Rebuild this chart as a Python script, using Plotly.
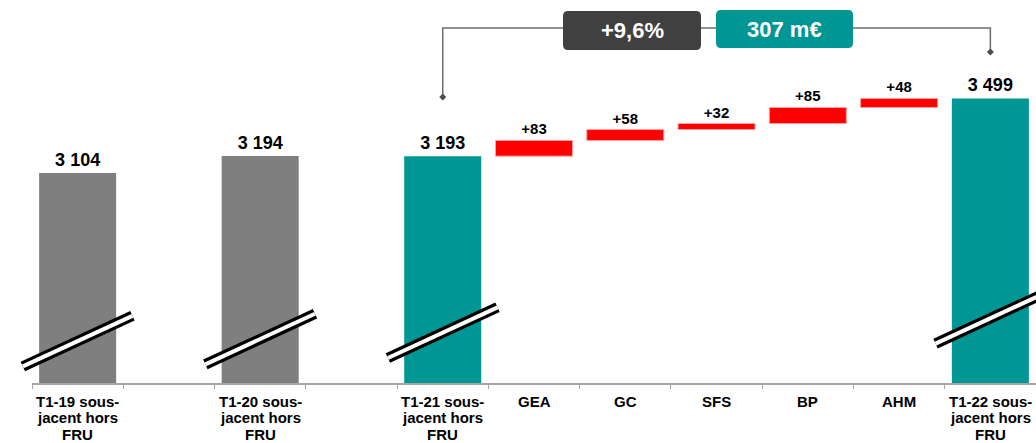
import plotly.graph_objects as go

# ---------------- data ----------------
categories = [
    "T1-19 sous-\njacent hors\nFRU", "",
    "T1-20 sous-\njacent hors\nFRU", "",
    "T1-21 sous-\njacent hors\nFRU",
    "GEA", "GC", "SFS", "BP", "AHM",
    "T1-22 sous-\njacent hors\nFRU",
]
total_idx = [0, 2, 4, 10]
total_values = [3104, 3194, 3193, 3499]
total_colors = ["#7F7F7F", "#7F7F7F", "#009694", "#009694"]
delta_idx = [5, 6, 7, 8, 9]
delta_values = [83, 58, 32, 85, 48]
growth_pct = "+9,6%"
growth_abs = "307 m€"

# ---------------- geometry helpers ----------------
W, H = 1036, 443
ML, MR, MT, MB = 32, 0, 0, 60
PW, PH = W - ML - MR, H - MT - MB
Y_MIN, Y_MAX = 1990, 4021
N = len(categories)
BAR_W = 0.844
FONT = "Liberation Sans, Arial, sans-serif"


def fx(px):  # pixel x -> paper
    return (px - ML) / PW


def fy(py):  # pixel y -> paper
    return (MT + PH - py) / PH


def cx(idx):  # category index -> paper x
    return (idx + 0.5) / N


def vy(v):  # value -> paper y
    return (v - Y_MIN) / (Y_MAX - Y_MIN)


def fmt(v):
    return f"{v:,}".replace(",", " ")


# cumulative bases for the deltas
bases = []
run = total_values[2]
for d in delta_values:
    bases.append(run)
    run += d

fig = go.Figure()
fig.add_trace(go.Bar(
    x=total_idx, y=total_values, width=[BAR_W] * len(total_idx),
    marker=dict(color=total_colors, line=dict(width=0)),
    text=[fmt(v) for v in total_values], textposition="outside", constraintext="none",
    textfont=dict(family=FONT, size=18, color="#000000", weight="bold"),
    cliponaxis=False, hoverinfo="skip",
))
fig.add_trace(go.Bar(
    x=delta_idx, y=delta_values, base=bases, width=[BAR_W] * len(delta_idx),
    marker=dict(color="#FF0000", line=dict(width=1, color="#FFA0A0")),
    text=[f"+{v}" for v in delta_values], textposition="outside", constraintext="none",
    textfont=dict(family=FONT, size=15, color="#000000", weight="bold"),
    cliponaxis=False, hoverinfo="skip",
))

shapes = []
annotations = []

# axis break marks on the total bars (value at bar centre)
break_values = [2212, 2223, 2257, 2333]
half_dx = 54.8 / PW  # paper
half_dy = 25.3 / PH
for idx, bv in zip(total_idx, break_values):
    x0, x1 = cx(idx) - half_dx, cx(idx) + half_dx
    y0, y1 = vy(bv) - half_dy, vy(bv) + half_dy
    shapes.append(dict(type="line", xref="paper", yref="paper", x0=x0, y0=y0, x1=x1, y1=y1,
                       line=dict(color="#000000", width=10.5), layer="above"))
    shapes.append(dict(type="line", xref="paper", yref="paper", x0=x0, y0=y0, x1=x1, y1=y1,
                       line=dict(color="#FFFFFF", width=4), layer="above"))

# bracket
bx0, bx1 = cx(4), cx(10)
top_y = fy(28)
shapes.append(dict(type="path", xref="paper", yref="paper",
                   path=f"M {bx0},{fy(97)} L {bx0},{top_y} L {bx1},{top_y} L {bx1},{fy(52)}",
                   line=dict(color="#6E6E6E", width=1.5)))
for (x, y) in [(bx0, fy(97)), (bx1, fy(52))]:
    dx, dy = 3.5 / PW, 3.5 / PH
    shapes.append(dict(type="path", xref="paper", yref="paper",
                       path=f"M {x},{y+dy} L {x+dx},{y} L {x},{y-dy} L {x-dx},{y} Z",
                       fillcolor="#4D4D4D", line=dict(width=0)))


def rrect(x0, y0, x1, y1, r=5):
    X0, X1 = fx(x0), fx(x1)
    Y0, Y1 = fy(y0), fy(y1)  # Y0 top
    rx, ry = r / PW, r / PH
    return (f"M {X0+rx},{Y0} L {X1-rx},{Y0} Q {X1},{Y0} {X1},{Y0-ry} "
            f"L {X1},{Y1+ry} Q {X1},{Y1} {X1-rx},{Y1} L {X0+rx},{Y1} "
            f"Q {X0},{Y1} {X0},{Y1+ry} L {X0},{Y0-ry} Q {X0},{Y0} {X0+rx},{Y0} Z")


for (box, col, txt) in [((563, 11, 701, 50), "#404040", growth_pct),
                        ((716, 10, 853, 48), "#009694", growth_abs)]:
    shapes.append(dict(type="path", xref="paper", yref="paper", path=rrect(*box),
                       fillcolor=col, line=dict(width=0)))
    annotations.append(dict(xref="paper", yref="paper", x=fx((box[0] + box[2]) / 2),
                            y=fy((box[1] + box[3]) / 2), text=txt, showarrow=False,
                            xanchor="center", yanchor="middle",
                            font=dict(family=FONT, size=22, color="#FFFFFF", weight="bold")))

# category labels (one annotation per line to keep tight line spacing)
line_tops = [391, 407.3, 423.6]
for i, lab in enumerate(categories):
    if not lab:
        continue
    for j, part in enumerate(lab.split("\n")):
        annotations.append(dict(xref="x", yref="paper", x=i, y=fy(line_tops[j]), text=part,
                                showarrow=False, xanchor="center", yanchor="top",
                                font=dict(family=FONT, size=15, color="#000000", weight="bold")))

fig.update_layout(
    width=W, height=H, margin=dict(l=ML, r=MR, t=MT, b=MB),
    plot_bgcolor="#FFFFFF", paper_bgcolor="#FFFFFF", showlegend=False,
    bargap=0.156, barmode="overlay",
    shapes=shapes, annotations=annotations,
    xaxis=dict(range=[-0.5, N - 0.5], showticklabels=False, showgrid=False, zeroline=False,
               showline=True, linecolor="#A6A6A6", linewidth=1.5, ticks="",
               tickvals=list(range(N)),
               minor=dict(tickmode="array", tickvals=[i - 0.5 for i in range(N + 1)],
                          ticks="outside", ticklen=4, tickcolor="#A6A6A6", tickwidth=1,
                          showgrid=False)),
    yaxis=dict(range=[Y_MIN, Y_MAX], visible=False),
)

fig.write_html("out.html")
